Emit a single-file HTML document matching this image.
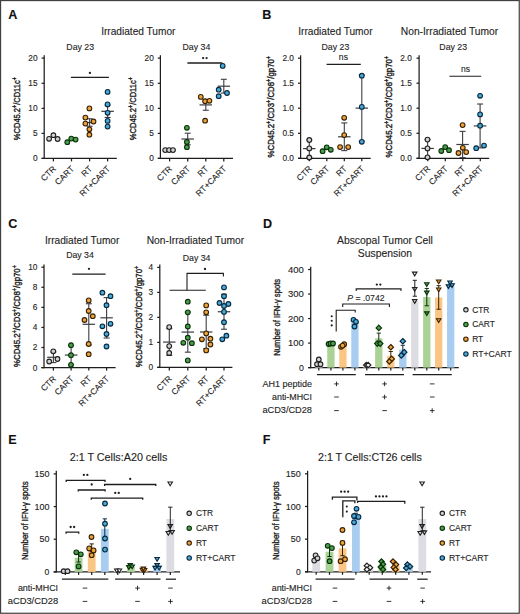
<!DOCTYPE html>
<html><head><meta charset="utf-8"><style>
html,body{margin:0;padding:0;background:#fff;}
svg{display:block;}
svg{font-family:"Liberation Sans",sans-serif;} text{stroke:#1e1e1e;stroke-width:0.12px;}
</style></head><body>
<svg width="520" height="614" viewBox="0 0 520 614" fill="#1e1e1e">
<rect x="0.55" y="0.55" width="518.7" height="612.7" fill="#fff" stroke="#404040" stroke-width="1.2"/>
<text x="8.2" y="19" font-size="12.6" font-weight="bold" fill="#111">A</text>
<text x="262.3" y="19" font-size="12.6" font-weight="bold" fill="#111">B</text>
<text x="8.2" y="228.3" font-size="12.6" font-weight="bold" fill="#111">C</text>
<text x="263.1" y="228.2" font-size="12.6" font-weight="bold" fill="#111">D</text>
<text x="8.3" y="444.3" font-size="12.6" font-weight="bold" fill="#111">E</text>
<text x="262.7" y="444.3" font-size="12.6" font-weight="bold" fill="#111">F</text>
<text x="138.3" y="34.8" font-size="10.15" text-anchor="middle">Irradiated Tumor</text>
<text x="80.2" y="49.5" font-size="8.75" text-anchor="middle">Day 23</text>
<line x1="44.2" y1="55.2" x2="44.2" y2="159.03" stroke="#1e1e1e" stroke-width="1.25"/>
<line x1="41.6" y1="58.1" x2="44.2" y2="58.1" stroke="#1e1e1e" stroke-width="1.25"/>
<text x="37.6" y="61.05" font-size="8.3" text-anchor="end">20</text>
<line x1="41.6" y1="83.3" x2="44.2" y2="83.3" stroke="#1e1e1e" stroke-width="1.25"/>
<text x="37.6" y="86.25" font-size="8.3" text-anchor="end">15</text>
<line x1="41.6" y1="108.4" x2="44.2" y2="108.4" stroke="#1e1e1e" stroke-width="1.25"/>
<text x="37.6" y="111.35" font-size="8.3" text-anchor="end">10</text>
<line x1="41.6" y1="133.4" x2="44.2" y2="133.4" stroke="#1e1e1e" stroke-width="1.25"/>
<text x="37.6" y="136.35" font-size="8.3" text-anchor="end">5</text>
<line x1="41.6" y1="158.4" x2="44.2" y2="158.4" stroke="#1e1e1e" stroke-width="1.25"/>
<text x="37.6" y="161.35" font-size="8.3" text-anchor="end">0</text>
<line x1="41.6" y1="158.4" x2="116.8" y2="158.4" stroke="#1e1e1e" stroke-width="1.25"/>
<line x1="53.4" y1="158.4" x2="53.4" y2="161.4" stroke="#1e1e1e" stroke-width="1.25"/>
<line x1="71.5" y1="158.4" x2="71.5" y2="161.4" stroke="#1e1e1e" stroke-width="1.25"/>
<line x1="89.6" y1="158.4" x2="89.6" y2="161.4" stroke="#1e1e1e" stroke-width="1.25"/>
<line x1="107.6" y1="158.4" x2="107.6" y2="161.4" stroke="#1e1e1e" stroke-width="1.25"/>
<text class="xl" transform="translate(56.5 169.3) rotate(-45)" font-size="8.5" text-anchor="end">CTR</text>
<text class="xl" transform="translate(74.6 169.3) rotate(-45)" font-size="8.5" text-anchor="end">CART</text>
<text class="xl" transform="translate(92.7 169.3) rotate(-45)" font-size="8.5" text-anchor="end">RT</text>
<text class="xl" transform="translate(110.7 169.3) rotate(-45)" font-size="8.5" text-anchor="end">RT+CART</text>
<g transform="translate(19.9 108.7) rotate(-90) scale(0.7852 1)"><text x="0" y="0" font-size="9.6" text-anchor="middle" style="stroke-width:0.4px">%CD45.2<tspan font-size="6.72" baseline-shift="3.17">+</tspan>/CD11c<tspan font-size="6.72" baseline-shift="3.17">+</tspan></text></g>
<text x="196.4" y="49.5" font-size="8.75" text-anchor="middle">Day 34</text>
<line x1="160.4" y1="55.2" x2="160.4" y2="159.03" stroke="#1e1e1e" stroke-width="1.25"/>
<line x1="157.8" y1="58.1" x2="160.4" y2="58.1" stroke="#1e1e1e" stroke-width="1.25"/>
<text x="153.8" y="61.05" font-size="8.3" text-anchor="end">20</text>
<line x1="157.8" y1="83.3" x2="160.4" y2="83.3" stroke="#1e1e1e" stroke-width="1.25"/>
<text x="153.8" y="86.25" font-size="8.3" text-anchor="end">15</text>
<line x1="157.8" y1="108.4" x2="160.4" y2="108.4" stroke="#1e1e1e" stroke-width="1.25"/>
<text x="153.8" y="111.35" font-size="8.3" text-anchor="end">10</text>
<line x1="157.8" y1="133.4" x2="160.4" y2="133.4" stroke="#1e1e1e" stroke-width="1.25"/>
<text x="153.8" y="136.35" font-size="8.3" text-anchor="end">5</text>
<line x1="157.8" y1="158.4" x2="160.4" y2="158.4" stroke="#1e1e1e" stroke-width="1.25"/>
<text x="153.8" y="161.35" font-size="8.3" text-anchor="end">0</text>
<line x1="157.8" y1="158.4" x2="233" y2="158.4" stroke="#1e1e1e" stroke-width="1.25"/>
<line x1="169.6" y1="158.4" x2="169.6" y2="161.4" stroke="#1e1e1e" stroke-width="1.25"/>
<line x1="187.7" y1="158.4" x2="187.7" y2="161.4" stroke="#1e1e1e" stroke-width="1.25"/>
<line x1="205.8" y1="158.4" x2="205.8" y2="161.4" stroke="#1e1e1e" stroke-width="1.25"/>
<line x1="223.8" y1="158.4" x2="223.8" y2="161.4" stroke="#1e1e1e" stroke-width="1.25"/>
<text class="xl" transform="translate(172.7 169.3) rotate(-45)" font-size="8.5" text-anchor="end">CTR</text>
<text class="xl" transform="translate(190.8 169.3) rotate(-45)" font-size="8.5" text-anchor="end">CART</text>
<text class="xl" transform="translate(208.9 169.3) rotate(-45)" font-size="8.5" text-anchor="end">RT</text>
<text class="xl" transform="translate(226.9 169.3) rotate(-45)" font-size="8.5" text-anchor="end">RT+CART</text>
<g transform="translate(136.1 108.7) rotate(-90) scale(0.7852 1)"><text x="0" y="0" font-size="9.6" text-anchor="middle" style="stroke-width:0.4px">%CD45.2<tspan font-size="6.72" baseline-shift="3.17">+</tspan>/CD11c<tspan font-size="6.72" baseline-shift="3.17">+</tspan></text></g>
<line x1="89.6" y1="118.77" x2="89.6" y2="126.26" stroke="#3c3c44" stroke-width="1.1"/>
<line x1="86.6" y1="118.77" x2="92.6" y2="118.77" stroke="#3c3c44" stroke-width="1.1"/>
<line x1="86.6" y1="126.26" x2="92.6" y2="126.26" stroke="#3c3c44" stroke-width="1.1"/>
<line x1="83.35" y1="122.52" x2="95.85" y2="122.52" stroke="#3c3c44" stroke-width="1.21"/>
<line x1="107.6" y1="105.19" x2="107.6" y2="117.45" stroke="#3c3c44" stroke-width="1.1"/>
<line x1="104.6" y1="105.19" x2="110.6" y2="105.19" stroke="#3c3c44" stroke-width="1.1"/>
<line x1="104.6" y1="117.45" x2="110.6" y2="117.45" stroke="#3c3c44" stroke-width="1.1"/>
<line x1="101.35" y1="111.32" x2="113.85" y2="111.32" stroke="#3c3c44" stroke-width="1.21"/>
<circle cx="49.1" cy="138.8" r="2.35" fill="#d2d2d2" stroke="#1f1f1f" stroke-width="1.1"/>
<circle cx="53.4" cy="135.2" r="2.35" fill="#d2d2d2" stroke="#1f1f1f" stroke-width="1.1"/>
<circle cx="57.6" cy="139" r="2.35" fill="#d2d2d2" stroke="#1f1f1f" stroke-width="1.1"/>
<circle cx="67.3" cy="142.2" r="2.35" fill="#4a9f4a" stroke="#0a300b" stroke-width="1.1"/>
<circle cx="71.3" cy="138.6" r="2.35" fill="#4a9f4a" stroke="#0a300b" stroke-width="1.1"/>
<circle cx="75.6" cy="139.6" r="2.35" fill="#4a9f4a" stroke="#0a300b" stroke-width="1.1"/>
<circle cx="89.4" cy="108.4" r="2.35" fill="#eca53a" stroke="#382004" stroke-width="1.1"/>
<circle cx="85.4" cy="117.6" r="2.35" fill="#eca53a" stroke="#382004" stroke-width="1.1"/>
<circle cx="85.4" cy="123.6" r="2.35" fill="#eca53a" stroke="#382004" stroke-width="1.1"/>
<circle cx="93.5" cy="121.5" r="2.35" fill="#eca53a" stroke="#382004" stroke-width="1.1"/>
<circle cx="89.4" cy="129.3" r="2.35" fill="#eca53a" stroke="#382004" stroke-width="1.1"/>
<circle cx="89.4" cy="134.7" r="2.35" fill="#eca53a" stroke="#382004" stroke-width="1.1"/>
<circle cx="107.6" cy="91.9" r="2.35" fill="#48aadb" stroke="#08283c" stroke-width="1.1"/>
<circle cx="107.6" cy="104.4" r="2.35" fill="#48aadb" stroke="#08283c" stroke-width="1.1"/>
<circle cx="107.6" cy="112.8" r="2.35" fill="#48aadb" stroke="#08283c" stroke-width="1.1"/>
<circle cx="107.6" cy="120.9" r="2.35" fill="#48aadb" stroke="#08283c" stroke-width="1.1"/>
<circle cx="107.6" cy="126.6" r="2.35" fill="#48aadb" stroke="#08283c" stroke-width="1.1"/>
<line x1="187.7" y1="133.2" x2="187.7" y2="144.8" stroke="#3c3c44" stroke-width="1.1"/>
<line x1="184.7" y1="133.2" x2="190.7" y2="133.2" stroke="#3c3c44" stroke-width="1.1"/>
<line x1="184.7" y1="144.8" x2="190.7" y2="144.8" stroke="#3c3c44" stroke-width="1.1"/>
<line x1="181.45" y1="139" x2="193.95" y2="139" stroke="#3c3c44" stroke-width="1.21"/>
<line x1="205.8" y1="99.54" x2="205.8" y2="110.26" stroke="#3c3c44" stroke-width="1.1"/>
<line x1="202.8" y1="99.54" x2="208.8" y2="99.54" stroke="#3c3c44" stroke-width="1.1"/>
<line x1="202.8" y1="110.26" x2="208.8" y2="110.26" stroke="#3c3c44" stroke-width="1.1"/>
<line x1="199.55" y1="104.9" x2="212.05" y2="104.9" stroke="#3c3c44" stroke-width="1.21"/>
<line x1="223.8" y1="79.3" x2="223.8" y2="93.1" stroke="#3c3c44" stroke-width="1.1"/>
<line x1="220.8" y1="79.3" x2="226.8" y2="79.3" stroke="#3c3c44" stroke-width="1.1"/>
<line x1="220.8" y1="93.1" x2="226.8" y2="93.1" stroke="#3c3c44" stroke-width="1.1"/>
<line x1="217.55" y1="86.2" x2="230.05" y2="86.2" stroke="#3c3c44" stroke-width="1.21"/>
<circle cx="165.2" cy="150.1" r="2.35" fill="#d2d2d2" stroke="#1f1f1f" stroke-width="1.1"/>
<circle cx="169.1" cy="150.1" r="2.35" fill="#d2d2d2" stroke="#1f1f1f" stroke-width="1.1"/>
<circle cx="173" cy="150.1" r="2.35" fill="#d2d2d2" stroke="#1f1f1f" stroke-width="1.1"/>
<circle cx="186.9" cy="127.8" r="2.35" fill="#4a9f4a" stroke="#0a300b" stroke-width="1.1"/>
<circle cx="186.9" cy="142" r="2.35" fill="#4a9f4a" stroke="#0a300b" stroke-width="1.1"/>
<circle cx="186.9" cy="147.2" r="2.35" fill="#4a9f4a" stroke="#0a300b" stroke-width="1.1"/>
<circle cx="200.8" cy="96.9" r="2.35" fill="#eca53a" stroke="#382004" stroke-width="1.1"/>
<circle cx="205.1" cy="101.2" r="2.35" fill="#eca53a" stroke="#382004" stroke-width="1.1"/>
<circle cx="209.4" cy="100.8" r="2.35" fill="#eca53a" stroke="#382004" stroke-width="1.1"/>
<circle cx="205.1" cy="120.7" r="2.35" fill="#eca53a" stroke="#382004" stroke-width="1.1"/>
<circle cx="222.7" cy="65.9" r="2.35" fill="#48aadb" stroke="#08283c" stroke-width="1.1"/>
<circle cx="218.7" cy="89.7" r="2.35" fill="#48aadb" stroke="#08283c" stroke-width="1.1"/>
<circle cx="227" cy="93" r="2.35" fill="#48aadb" stroke="#08283c" stroke-width="1.1"/>
<circle cx="218.7" cy="96.2" r="2.35" fill="#48aadb" stroke="#08283c" stroke-width="1.1"/>
<polyline points="70.9,77.4 108.9,77.4" fill="none" stroke="#1e1e1e" stroke-width="1.3"/>
<circle cx="89.9" cy="72.9" r="1.15" fill="#1e1e1e"/>
<polyline points="187.4,63 222.3,63" fill="none" stroke="#1e1e1e" stroke-width="1.3"/>
<circle cx="203.1" cy="58.1" r="1.15" fill="#1e1e1e"/>
<circle cx="206.6" cy="58.1" r="1.15" fill="#1e1e1e"/>
<text x="335.4" y="35.1" font-size="10.15" text-anchor="middle">Irradiated Tumor</text>
<text x="449.5" y="35" font-size="10.25" text-anchor="middle">Non-Irradiated Tumor</text>
<text x="335.4" y="49.7" font-size="8.75" text-anchor="middle">Day 23</text>
<line x1="300.6" y1="55.3" x2="300.6" y2="158.93" stroke="#1e1e1e" stroke-width="1.25"/>
<line x1="298" y1="58.2" x2="300.6" y2="58.2" stroke="#1e1e1e" stroke-width="1.25"/>
<text x="294" y="61.15" font-size="8.3" text-anchor="end">2.0</text>
<line x1="298" y1="83.2" x2="300.6" y2="83.2" stroke="#1e1e1e" stroke-width="1.25"/>
<text x="294" y="86.15" font-size="8.3" text-anchor="end">1.5</text>
<line x1="298" y1="108.2" x2="300.6" y2="108.2" stroke="#1e1e1e" stroke-width="1.25"/>
<text x="294" y="111.15" font-size="8.3" text-anchor="end">1.0</text>
<line x1="298" y1="133.3" x2="300.6" y2="133.3" stroke="#1e1e1e" stroke-width="1.25"/>
<text x="294" y="136.25" font-size="8.3" text-anchor="end">0.5</text>
<line x1="298" y1="158.3" x2="300.6" y2="158.3" stroke="#1e1e1e" stroke-width="1.25"/>
<text x="294" y="161.25" font-size="8.3" text-anchor="end">0.0</text>
<line x1="298" y1="158.3" x2="370.7" y2="158.3" stroke="#1e1e1e" stroke-width="1.25"/>
<line x1="309.3" y1="158.3" x2="309.3" y2="161.3" stroke="#1e1e1e" stroke-width="1.25"/>
<line x1="326.8" y1="158.3" x2="326.8" y2="161.3" stroke="#1e1e1e" stroke-width="1.25"/>
<line x1="344.3" y1="158.3" x2="344.3" y2="161.3" stroke="#1e1e1e" stroke-width="1.25"/>
<line x1="361.8" y1="158.3" x2="361.8" y2="161.3" stroke="#1e1e1e" stroke-width="1.25"/>
<text class="xl" transform="translate(312.4 169.2) rotate(-45)" font-size="8.5" text-anchor="end">CTR</text>
<text class="xl" transform="translate(329.9 169.2) rotate(-45)" font-size="8.5" text-anchor="end">CART</text>
<text class="xl" transform="translate(347.4 169.2) rotate(-45)" font-size="8.5" text-anchor="end">RT</text>
<text class="xl" transform="translate(364.9 169.2) rotate(-45)" font-size="8.5" text-anchor="end">RT+CART</text>
<g transform="translate(274.1 106.7) rotate(-90) scale(0.8693 1)"><text x="0" y="0" font-size="9" text-anchor="middle" style="stroke-width:0.4px">%CD45.2<tspan font-size="6.3" baseline-shift="2.97">+</tspan>/CD3<tspan font-size="6.3" baseline-shift="2.97">+</tspan>/CD8<tspan font-size="6.3" baseline-shift="2.97">+</tspan>/gp70<tspan font-size="6.3" baseline-shift="2.97">+</tspan></text></g>
<text x="453.2" y="49.7" font-size="8.75" text-anchor="middle">Day 23</text>
<line x1="419.1" y1="55.3" x2="419.1" y2="158.93" stroke="#1e1e1e" stroke-width="1.25"/>
<line x1="416.5" y1="58.2" x2="419.1" y2="58.2" stroke="#1e1e1e" stroke-width="1.25"/>
<text x="411.8" y="61.15" font-size="8.3" text-anchor="end">2.0</text>
<line x1="416.5" y1="83.2" x2="419.1" y2="83.2" stroke="#1e1e1e" stroke-width="1.25"/>
<text x="411.8" y="86.15" font-size="8.3" text-anchor="end">1.5</text>
<line x1="416.5" y1="108.2" x2="419.1" y2="108.2" stroke="#1e1e1e" stroke-width="1.25"/>
<text x="411.8" y="111.15" font-size="8.3" text-anchor="end">1.0</text>
<line x1="416.5" y1="133.3" x2="419.1" y2="133.3" stroke="#1e1e1e" stroke-width="1.25"/>
<text x="411.8" y="136.25" font-size="8.3" text-anchor="end">0.5</text>
<line x1="416.5" y1="158.3" x2="419.1" y2="158.3" stroke="#1e1e1e" stroke-width="1.25"/>
<text x="411.8" y="161.25" font-size="8.3" text-anchor="end">0.0</text>
<line x1="416.5" y1="158.3" x2="489.2" y2="158.3" stroke="#1e1e1e" stroke-width="1.25"/>
<line x1="427.8" y1="158.3" x2="427.8" y2="161.3" stroke="#1e1e1e" stroke-width="1.25"/>
<line x1="445.3" y1="158.3" x2="445.3" y2="161.3" stroke="#1e1e1e" stroke-width="1.25"/>
<line x1="462.8" y1="158.3" x2="462.8" y2="161.3" stroke="#1e1e1e" stroke-width="1.25"/>
<line x1="480.3" y1="158.3" x2="480.3" y2="161.3" stroke="#1e1e1e" stroke-width="1.25"/>
<text class="xl" transform="translate(430.9 169.2) rotate(-45)" font-size="8.5" text-anchor="end">CTR</text>
<text class="xl" transform="translate(448.4 169.2) rotate(-45)" font-size="8.5" text-anchor="end">CART</text>
<text class="xl" transform="translate(465.9 169.2) rotate(-45)" font-size="8.5" text-anchor="end">RT</text>
<text class="xl" transform="translate(483.4 169.2) rotate(-45)" font-size="8.5" text-anchor="end">RT+CART</text>
<g transform="translate(391.9 106.7) rotate(-90) scale(0.8693 1)"><text x="0" y="0" font-size="9" text-anchor="middle" style="stroke-width:0.4px">%CD45.2<tspan font-size="6.3" baseline-shift="2.97">+</tspan>/CD3<tspan font-size="6.3" baseline-shift="2.97">+</tspan>/CD8<tspan font-size="6.3" baseline-shift="2.97">+</tspan>/gp70<tspan font-size="6.3" baseline-shift="2.97">+</tspan></text></g>
<line x1="309.3" y1="139.88" x2="309.3" y2="157.39" stroke="#3c3c44" stroke-width="1.1"/>
<line x1="306.3" y1="139.88" x2="312.3" y2="139.88" stroke="#3c3c44" stroke-width="1.1"/>
<line x1="306.3" y1="157.39" x2="312.3" y2="157.39" stroke="#3c3c44" stroke-width="1.1"/>
<line x1="303.05" y1="148.63" x2="315.55" y2="148.63" stroke="#3c3c44" stroke-width="1.21"/>
<line x1="344.3" y1="122.92" x2="344.3" y2="150.63" stroke="#3c3c44" stroke-width="1.1"/>
<line x1="341.3" y1="122.92" x2="347.3" y2="122.92" stroke="#3c3c44" stroke-width="1.1"/>
<line x1="341.3" y1="150.63" x2="347.3" y2="150.63" stroke="#3c3c44" stroke-width="1.1"/>
<line x1="338.05" y1="136.78" x2="350.55" y2="136.78" stroke="#3c3c44" stroke-width="1.21"/>
<line x1="361.8" y1="75.07" x2="361.8" y2="141.2" stroke="#3c3c44" stroke-width="1.1"/>
<line x1="358.8" y1="75.07" x2="364.8" y2="75.07" stroke="#3c3c44" stroke-width="1.1"/>
<line x1="358.8" y1="141.2" x2="364.8" y2="141.2" stroke="#3c3c44" stroke-width="1.1"/>
<line x1="355.55" y1="108.13" x2="368.05" y2="108.13" stroke="#3c3c44" stroke-width="1.21"/>
<circle cx="309.3" cy="140" r="2.35" fill="#d2d2d2" stroke="#1f1f1f" stroke-width="1.1"/>
<circle cx="309.3" cy="148.4" r="2.35" fill="#d2d2d2" stroke="#1f1f1f" stroke-width="1.1"/>
<circle cx="309.3" cy="157.5" r="2.35" fill="#d2d2d2" stroke="#1f1f1f" stroke-width="1.1"/>
<circle cx="322.6" cy="151.2" r="2.35" fill="#4a9f4a" stroke="#0a300b" stroke-width="1.1"/>
<circle cx="326.7" cy="147.3" r="2.35" fill="#4a9f4a" stroke="#0a300b" stroke-width="1.1"/>
<circle cx="330.8" cy="149.8" r="2.35" fill="#4a9f4a" stroke="#0a300b" stroke-width="1.1"/>
<circle cx="344.2" cy="117.8" r="2.35" fill="#eca53a" stroke="#382004" stroke-width="1.1"/>
<circle cx="344.2" cy="135.1" r="2.35" fill="#eca53a" stroke="#382004" stroke-width="1.1"/>
<circle cx="340.1" cy="147.1" r="2.35" fill="#eca53a" stroke="#382004" stroke-width="1.1"/>
<circle cx="348.2" cy="147.1" r="2.35" fill="#eca53a" stroke="#382004" stroke-width="1.1"/>
<circle cx="361.8" cy="75.7" r="2.35" fill="#48aadb" stroke="#08283c" stroke-width="1.1"/>
<circle cx="361.8" cy="106.9" r="2.35" fill="#48aadb" stroke="#08283c" stroke-width="1.1"/>
<circle cx="361.8" cy="141.8" r="2.35" fill="#48aadb" stroke="#08283c" stroke-width="1.1"/>
<line x1="427.6" y1="139.58" x2="427.6" y2="157.28" stroke="#3c3c44" stroke-width="1.1"/>
<line x1="424.6" y1="139.58" x2="430.6" y2="139.58" stroke="#3c3c44" stroke-width="1.1"/>
<line x1="424.6" y1="157.28" x2="430.6" y2="157.28" stroke="#3c3c44" stroke-width="1.1"/>
<line x1="421.35" y1="148.43" x2="433.85" y2="148.43" stroke="#3c3c44" stroke-width="1.21"/>
<line x1="462.6" y1="131.37" x2="462.6" y2="157.63" stroke="#3c3c44" stroke-width="1.1"/>
<line x1="459.6" y1="131.37" x2="465.6" y2="131.37" stroke="#3c3c44" stroke-width="1.1"/>
<line x1="459.6" y1="157.63" x2="465.6" y2="157.63" stroke="#3c3c44" stroke-width="1.1"/>
<line x1="456.35" y1="144.5" x2="468.85" y2="144.5" stroke="#3c3c44" stroke-width="1.21"/>
<line x1="480.1" y1="104.01" x2="480.1" y2="147.87" stroke="#3c3c44" stroke-width="1.1"/>
<line x1="477.1" y1="104.01" x2="483.1" y2="104.01" stroke="#3c3c44" stroke-width="1.1"/>
<line x1="477.1" y1="147.87" x2="483.1" y2="147.87" stroke="#3c3c44" stroke-width="1.1"/>
<line x1="473.85" y1="125.94" x2="486.35" y2="125.94" stroke="#3c3c44" stroke-width="1.21"/>
<circle cx="427.5" cy="139.6" r="2.35" fill="#d2d2d2" stroke="#1f1f1f" stroke-width="1.1"/>
<circle cx="427.5" cy="148.4" r="2.35" fill="#d2d2d2" stroke="#1f1f1f" stroke-width="1.1"/>
<circle cx="427.5" cy="157.3" r="2.35" fill="#d2d2d2" stroke="#1f1f1f" stroke-width="1.1"/>
<circle cx="441.3" cy="151" r="2.35" fill="#4a9f4a" stroke="#0a300b" stroke-width="1.1"/>
<circle cx="445.2" cy="147.1" r="2.35" fill="#4a9f4a" stroke="#0a300b" stroke-width="1.1"/>
<circle cx="449" cy="150.2" r="2.35" fill="#4a9f4a" stroke="#0a300b" stroke-width="1.1"/>
<circle cx="462.6" cy="125.1" r="2.35" fill="#eca53a" stroke="#382004" stroke-width="1.1"/>
<circle cx="462.8" cy="147.8" r="2.35" fill="#eca53a" stroke="#382004" stroke-width="1.1"/>
<circle cx="458.5" cy="153" r="2.35" fill="#eca53a" stroke="#382004" stroke-width="1.1"/>
<circle cx="466.2" cy="152.1" r="2.35" fill="#eca53a" stroke="#382004" stroke-width="1.1"/>
<circle cx="480.1" cy="95.8" r="2.35" fill="#48aadb" stroke="#08283c" stroke-width="1.1"/>
<circle cx="480.1" cy="114.4" r="2.35" fill="#48aadb" stroke="#08283c" stroke-width="1.1"/>
<circle cx="480.1" cy="125.7" r="2.35" fill="#48aadb" stroke="#08283c" stroke-width="1.1"/>
<circle cx="476.2" cy="148.2" r="2.35" fill="#48aadb" stroke="#08283c" stroke-width="1.1"/>
<circle cx="484" cy="145.6" r="2.35" fill="#48aadb" stroke="#08283c" stroke-width="1.1"/>
<line x1="326.6" y1="64.4" x2="360.8" y2="64.4" stroke="#1e1e1e" stroke-width="1.1"/>
<text x="343.4" y="59.8" font-size="8.6" text-anchor="middle">ns</text>
<line x1="449.4" y1="76.2" x2="481.2" y2="76.2" stroke="#1e1e1e" stroke-width="1.1"/>
<text x="465.5" y="71.8" font-size="8.6" text-anchor="middle">ns</text>
<text x="82.2" y="244.3" font-size="10.15" text-anchor="middle">Irradiated Tumor</text>
<text x="80" y="258.4" font-size="8.75" text-anchor="middle">Day 34</text>
<text x="195.4" y="243.9" font-size="10.25" text-anchor="middle">Non-Irradiated Tumor</text>
<text x="196.6" y="260.9" font-size="8.75" text-anchor="middle">Day 34</text>
<line x1="44" y1="264.6" x2="44" y2="368.23" stroke="#1e1e1e" stroke-width="1.25"/>
<line x1="41.4" y1="267.2" x2="44" y2="267.2" stroke="#1e1e1e" stroke-width="1.25"/>
<text x="37.4" y="270.15" font-size="8.3" text-anchor="end">10</text>
<line x1="41.4" y1="287.28" x2="44" y2="287.28" stroke="#1e1e1e" stroke-width="1.25"/>
<text x="37.4" y="290.23" font-size="8.3" text-anchor="end">8</text>
<line x1="41.4" y1="307.36" x2="44" y2="307.36" stroke="#1e1e1e" stroke-width="1.25"/>
<text x="37.4" y="310.31" font-size="8.3" text-anchor="end">6</text>
<line x1="41.4" y1="327.44" x2="44" y2="327.44" stroke="#1e1e1e" stroke-width="1.25"/>
<text x="37.4" y="330.39" font-size="8.3" text-anchor="end">4</text>
<line x1="41.4" y1="347.52" x2="44" y2="347.52" stroke="#1e1e1e" stroke-width="1.25"/>
<text x="37.4" y="350.47" font-size="8.3" text-anchor="end">2</text>
<line x1="41.4" y1="367.6" x2="44" y2="367.6" stroke="#1e1e1e" stroke-width="1.25"/>
<text x="37.4" y="370.55" font-size="8.3" text-anchor="end">0</text>
<line x1="41.4" y1="367.6" x2="115.6" y2="367.6" stroke="#1e1e1e" stroke-width="1.25"/>
<line x1="53.4" y1="367.6" x2="53.4" y2="370.6" stroke="#1e1e1e" stroke-width="1.25"/>
<line x1="71.1" y1="367.6" x2="71.1" y2="370.6" stroke="#1e1e1e" stroke-width="1.25"/>
<line x1="88.8" y1="367.6" x2="88.8" y2="370.6" stroke="#1e1e1e" stroke-width="1.25"/>
<line x1="106.6" y1="367.6" x2="106.6" y2="370.6" stroke="#1e1e1e" stroke-width="1.25"/>
<text class="xl" transform="translate(56.5 379.4) rotate(-45)" font-size="8.5" text-anchor="end">CTR</text>
<text class="xl" transform="translate(74.2 379.4) rotate(-45)" font-size="8.5" text-anchor="end">CART</text>
<text class="xl" transform="translate(91.9 379.4) rotate(-45)" font-size="8.5" text-anchor="end">RT</text>
<text class="xl" transform="translate(109.7 379.4) rotate(-45)" font-size="8.5" text-anchor="end">RT+CART</text>
<g transform="translate(19.8 316) rotate(-90) scale(0.8736 1)"><text x="0" y="0" font-size="9" text-anchor="middle" style="stroke-width:0.4px">%CD45.2<tspan font-size="6.3" baseline-shift="2.97">+</tspan>/CD3<tspan font-size="6.3" baseline-shift="2.97">+</tspan>/CD8<tspan font-size="6.3" baseline-shift="2.97">+</tspan>/gp70<tspan font-size="6.3" baseline-shift="2.97">+</tspan></text></g>
<line x1="53.4" y1="351.95" x2="53.4" y2="362.58" stroke="#3c3c44" stroke-width="1.1"/>
<line x1="50.4" y1="351.95" x2="56.4" y2="351.95" stroke="#3c3c44" stroke-width="1.1"/>
<line x1="50.4" y1="362.58" x2="56.4" y2="362.58" stroke="#3c3c44" stroke-width="1.1"/>
<line x1="47.15" y1="357.27" x2="59.65" y2="357.27" stroke="#3c3c44" stroke-width="1.21"/>
<line x1="71.1" y1="345.27" x2="71.1" y2="364.87" stroke="#3c3c44" stroke-width="1.1"/>
<line x1="68.1" y1="345.27" x2="74.1" y2="345.27" stroke="#3c3c44" stroke-width="1.1"/>
<line x1="68.1" y1="364.87" x2="74.1" y2="364.87" stroke="#3c3c44" stroke-width="1.1"/>
<line x1="64.85" y1="355.07" x2="77.35" y2="355.07" stroke="#3c3c44" stroke-width="1.21"/>
<line x1="88.8" y1="303.74" x2="88.8" y2="344.86" stroke="#3c3c44" stroke-width="1.1"/>
<line x1="85.8" y1="303.74" x2="91.8" y2="303.74" stroke="#3c3c44" stroke-width="1.1"/>
<line x1="85.8" y1="344.86" x2="91.8" y2="344.86" stroke="#3c3c44" stroke-width="1.1"/>
<line x1="82.55" y1="324.3" x2="95.05" y2="324.3" stroke="#3c3c44" stroke-width="1.21"/>
<line x1="106.6" y1="297.61" x2="106.6" y2="338.02" stroke="#3c3c44" stroke-width="1.1"/>
<line x1="103.6" y1="297.61" x2="109.6" y2="297.61" stroke="#3c3c44" stroke-width="1.1"/>
<line x1="103.6" y1="338.02" x2="109.6" y2="338.02" stroke="#3c3c44" stroke-width="1.1"/>
<line x1="100.35" y1="317.81" x2="112.85" y2="317.81" stroke="#3c3c44" stroke-width="1.21"/>
<circle cx="53.3" cy="351.3" r="2.35" fill="#d2d2d2" stroke="#1f1f1f" stroke-width="1.1"/>
<circle cx="49.2" cy="361.5" r="2.35" fill="#d2d2d2" stroke="#1f1f1f" stroke-width="1.1"/>
<circle cx="57.5" cy="359" r="2.35" fill="#d2d2d2" stroke="#1f1f1f" stroke-width="1.1"/>
<circle cx="71" cy="345.2" r="2.35" fill="#4a9f4a" stroke="#0a300b" stroke-width="1.1"/>
<circle cx="71" cy="355.2" r="2.35" fill="#4a9f4a" stroke="#0a300b" stroke-width="1.1"/>
<circle cx="71" cy="364.8" r="2.35" fill="#4a9f4a" stroke="#0a300b" stroke-width="1.1"/>
<circle cx="88.7" cy="300.4" r="2.35" fill="#eca53a" stroke="#382004" stroke-width="1.1"/>
<circle cx="88.7" cy="311" r="2.35" fill="#eca53a" stroke="#382004" stroke-width="1.1"/>
<circle cx="92.8" cy="316.2" r="2.35" fill="#eca53a" stroke="#382004" stroke-width="1.1"/>
<circle cx="84.5" cy="320" r="2.35" fill="#eca53a" stroke="#382004" stroke-width="1.1"/>
<circle cx="88.7" cy="344" r="2.35" fill="#eca53a" stroke="#382004" stroke-width="1.1"/>
<circle cx="88.7" cy="354.2" r="2.35" fill="#eca53a" stroke="#382004" stroke-width="1.1"/>
<circle cx="102.4" cy="292.7" r="2.35" fill="#48aadb" stroke="#08283c" stroke-width="1.1"/>
<circle cx="110.5" cy="296.2" r="2.35" fill="#48aadb" stroke="#08283c" stroke-width="1.1"/>
<circle cx="106.5" cy="305.2" r="2.35" fill="#48aadb" stroke="#08283c" stroke-width="1.1"/>
<circle cx="102.4" cy="326.3" r="2.35" fill="#48aadb" stroke="#08283c" stroke-width="1.1"/>
<circle cx="110.5" cy="323.8" r="2.35" fill="#48aadb" stroke="#08283c" stroke-width="1.1"/>
<circle cx="106.5" cy="334" r="2.35" fill="#48aadb" stroke="#08283c" stroke-width="1.1"/>
<circle cx="106.5" cy="346.5" r="2.35" fill="#48aadb" stroke="#08283c" stroke-width="1.1"/>
<polyline points="72.3,274.1 105.6,274.1" fill="none" stroke="#1e1e1e" stroke-width="1.3"/>
<circle cx="88.95" cy="268.8" r="1.15" fill="#1e1e1e"/>
<line x1="159.8" y1="264.6" x2="159.8" y2="368.02" stroke="#1e1e1e" stroke-width="1.25"/>
<line x1="157.2" y1="267.4" x2="159.8" y2="267.4" stroke="#1e1e1e" stroke-width="1.25"/>
<text x="153.2" y="270.35" font-size="8.3" text-anchor="end">4</text>
<line x1="157.2" y1="292.4" x2="159.8" y2="292.4" stroke="#1e1e1e" stroke-width="1.25"/>
<text x="153.2" y="295.35" font-size="8.3" text-anchor="end">3</text>
<line x1="157.2" y1="317.4" x2="159.8" y2="317.4" stroke="#1e1e1e" stroke-width="1.25"/>
<text x="153.2" y="320.35" font-size="8.3" text-anchor="end">2</text>
<line x1="157.2" y1="342.4" x2="159.8" y2="342.4" stroke="#1e1e1e" stroke-width="1.25"/>
<text x="153.2" y="345.35" font-size="8.3" text-anchor="end">1</text>
<line x1="157.2" y1="367.4" x2="159.8" y2="367.4" stroke="#1e1e1e" stroke-width="1.25"/>
<text x="153.2" y="370.35" font-size="8.3" text-anchor="end">0</text>
<line x1="157.2" y1="367.4" x2="232.4" y2="367.4" stroke="#1e1e1e" stroke-width="1.25"/>
<line x1="169.3" y1="367.4" x2="169.3" y2="370.4" stroke="#1e1e1e" stroke-width="1.25"/>
<line x1="187.8" y1="367.4" x2="187.8" y2="370.4" stroke="#1e1e1e" stroke-width="1.25"/>
<line x1="206.2" y1="367.4" x2="206.2" y2="370.4" stroke="#1e1e1e" stroke-width="1.25"/>
<line x1="224" y1="367.4" x2="224" y2="370.4" stroke="#1e1e1e" stroke-width="1.25"/>
<text class="xl" transform="translate(172.4 379.2) rotate(-45)" font-size="8.5" text-anchor="end">CTR</text>
<text class="xl" transform="translate(190.9 379.2) rotate(-45)" font-size="8.5" text-anchor="end">CART</text>
<text class="xl" transform="translate(209.3 379.2) rotate(-45)" font-size="8.5" text-anchor="end">RT</text>
<text class="xl" transform="translate(227.1 379.2) rotate(-45)" font-size="8.5" text-anchor="end">RT+CART</text>
<g transform="translate(142.1 316.5) rotate(-90) scale(0.8512 1)"><text x="0" y="0" font-size="9.2" text-anchor="middle" style="stroke-width:0.4px">%CD45.2<tspan font-size="6.44" baseline-shift="3.04">+</tspan>/CD3<tspan font-size="6.44" baseline-shift="3.04">+</tspan>/CD8<tspan font-size="6.44" baseline-shift="3.04">+</tspan>/gp70<tspan font-size="6.44" baseline-shift="3.04">+</tspan></text></g>
<line x1="169.3" y1="328.65" x2="169.3" y2="355.48" stroke="#3c3c44" stroke-width="1.1"/>
<line x1="166.3" y1="328.65" x2="172.3" y2="328.65" stroke="#3c3c44" stroke-width="1.1"/>
<line x1="166.3" y1="355.48" x2="172.3" y2="355.48" stroke="#3c3c44" stroke-width="1.1"/>
<line x1="163.05" y1="342.07" x2="175.55" y2="342.07" stroke="#3c3c44" stroke-width="1.21"/>
<line x1="187.8" y1="312.01" x2="187.8" y2="352.16" stroke="#3c3c44" stroke-width="1.1"/>
<line x1="184.8" y1="312.01" x2="190.8" y2="312.01" stroke="#3c3c44" stroke-width="1.1"/>
<line x1="184.8" y1="352.16" x2="190.8" y2="352.16" stroke="#3c3c44" stroke-width="1.1"/>
<line x1="181.55" y1="332.09" x2="194.05" y2="332.09" stroke="#3c3c44" stroke-width="1.21"/>
<line x1="206.2" y1="315.21" x2="206.2" y2="348.79" stroke="#3c3c44" stroke-width="1.1"/>
<line x1="203.2" y1="315.21" x2="209.2" y2="315.21" stroke="#3c3c44" stroke-width="1.1"/>
<line x1="203.2" y1="348.79" x2="209.2" y2="348.79" stroke="#3c3c44" stroke-width="1.1"/>
<line x1="199.95" y1="332" x2="212.45" y2="332" stroke="#3c3c44" stroke-width="1.21"/>
<line x1="224" y1="294.26" x2="224" y2="329.23" stroke="#3c3c44" stroke-width="1.1"/>
<line x1="221" y1="294.26" x2="227" y2="294.26" stroke="#3c3c44" stroke-width="1.1"/>
<line x1="221" y1="329.23" x2="227" y2="329.23" stroke="#3c3c44" stroke-width="1.1"/>
<line x1="217.75" y1="311.74" x2="230.25" y2="311.74" stroke="#3c3c44" stroke-width="1.21"/>
<circle cx="169.2" cy="327.1" r="2.35" fill="#d2d2d2" stroke="#1f1f1f" stroke-width="1.1"/>
<circle cx="169.2" cy="346.1" r="2.35" fill="#d2d2d2" stroke="#1f1f1f" stroke-width="1.1"/>
<circle cx="169.2" cy="353" r="2.35" fill="#d2d2d2" stroke="#1f1f1f" stroke-width="1.1"/>
<circle cx="187.8" cy="301.7" r="2.35" fill="#4a9f4a" stroke="#0a300b" stroke-width="1.1"/>
<circle cx="187.8" cy="312.3" r="2.35" fill="#4a9f4a" stroke="#0a300b" stroke-width="1.1"/>
<circle cx="187.8" cy="326.5" r="2.35" fill="#4a9f4a" stroke="#0a300b" stroke-width="1.1"/>
<circle cx="187.8" cy="337.7" r="2.35" fill="#4a9f4a" stroke="#0a300b" stroke-width="1.1"/>
<circle cx="183.3" cy="342.8" r="2.35" fill="#4a9f4a" stroke="#0a300b" stroke-width="1.1"/>
<circle cx="191.9" cy="343.2" r="2.35" fill="#4a9f4a" stroke="#0a300b" stroke-width="1.1"/>
<circle cx="187.8" cy="360.4" r="2.35" fill="#4a9f4a" stroke="#0a300b" stroke-width="1.1"/>
<circle cx="206.2" cy="305.4" r="2.35" fill="#eca53a" stroke="#382004" stroke-width="1.1"/>
<circle cx="206.2" cy="312.3" r="2.35" fill="#eca53a" stroke="#382004" stroke-width="1.1"/>
<circle cx="206.2" cy="333.4" r="2.35" fill="#eca53a" stroke="#382004" stroke-width="1.1"/>
<circle cx="201.9" cy="339.3" r="2.35" fill="#eca53a" stroke="#382004" stroke-width="1.1"/>
<circle cx="210.4" cy="338.7" r="2.35" fill="#eca53a" stroke="#382004" stroke-width="1.1"/>
<circle cx="210.4" cy="344.5" r="2.35" fill="#eca53a" stroke="#382004" stroke-width="1.1"/>
<circle cx="206.2" cy="350.4" r="2.35" fill="#eca53a" stroke="#382004" stroke-width="1.1"/>
<circle cx="224" cy="287.4" r="2.35" fill="#48aadb" stroke="#08283c" stroke-width="1.1"/>
<circle cx="224" cy="296.2" r="2.35" fill="#48aadb" stroke="#08283c" stroke-width="1.1"/>
<circle cx="219.5" cy="303" r="2.35" fill="#48aadb" stroke="#08283c" stroke-width="1.1"/>
<circle cx="228.4" cy="304" r="2.35" fill="#48aadb" stroke="#08283c" stroke-width="1.1"/>
<circle cx="224" cy="306" r="2.35" fill="#48aadb" stroke="#08283c" stroke-width="1.1"/>
<circle cx="224" cy="311.9" r="2.35" fill="#48aadb" stroke="#08283c" stroke-width="1.1"/>
<circle cx="224" cy="322.2" r="2.35" fill="#48aadb" stroke="#08283c" stroke-width="1.1"/>
<circle cx="222.3" cy="339.3" r="2.35" fill="#48aadb" stroke="#08283c" stroke-width="1.1"/>
<circle cx="226.4" cy="335.7" r="2.35" fill="#48aadb" stroke="#08283c" stroke-width="1.1"/>
<line x1="169.6" y1="290.3" x2="205.8" y2="290.3" stroke="#1e1e1e" stroke-width="1.1"/>
<polyline points="187,290.3 187,273.4 223.4,273.4 223.4,276.4" fill="none" stroke="#1e1e1e" stroke-width="1.1"/>
<circle cx="205" cy="269" r="1.15" fill="#1e1e1e"/>
<text x="384.9" y="243.9" font-size="10.4" text-anchor="middle">Abscopal Tumor Cell</text>
<text x="384.9" y="256.9" font-size="10.4" text-anchor="middle">Suspension</text>
<line x1="310.7" y1="266.8" x2="310.7" y2="368.23" stroke="#1e1e1e" stroke-width="1.25"/>
<line x1="308.1" y1="269.52" x2="310.7" y2="269.52" stroke="#1e1e1e" stroke-width="1.25"/>
<text x="303.8" y="272.61" font-size="8.7" text-anchor="end" textLength="15.8" lengthAdjust="spacingAndGlyphs">400</text>
<line x1="308.1" y1="294.04" x2="310.7" y2="294.04" stroke="#1e1e1e" stroke-width="1.25"/>
<text x="303.8" y="297.13" font-size="8.7" text-anchor="end" textLength="15.8" lengthAdjust="spacingAndGlyphs">300</text>
<line x1="308.1" y1="318.56" x2="310.7" y2="318.56" stroke="#1e1e1e" stroke-width="1.25"/>
<text x="303.8" y="321.65" font-size="8.7" text-anchor="end" textLength="15.8" lengthAdjust="spacingAndGlyphs">200</text>
<line x1="308.1" y1="343.08" x2="310.7" y2="343.08" stroke="#1e1e1e" stroke-width="1.25"/>
<text x="303.8" y="346.17" font-size="8.7" text-anchor="end" textLength="15.8" lengthAdjust="spacingAndGlyphs">100</text>
<line x1="308.1" y1="367.6" x2="310.7" y2="367.6" stroke="#1e1e1e" stroke-width="1.25"/>
<text x="303.8" y="370.69" font-size="8.7" text-anchor="end">0</text>
<g transform="translate(280.0 317.3) rotate(-90) scale(0.85 1)"><text x="0" y="0" font-size="9" text-anchor="middle" style="stroke-width:0.35px">Number of IFN-&#947; spots</text></g>
<line x1="308.1" y1="367.6" x2="458.8" y2="367.6" stroke="#1e1e1e" stroke-width="1.25"/>
<line x1="318.8" y1="367.6" x2="318.8" y2="370.6" stroke="#1e1e1e" stroke-width="1.25"/>
<line x1="330.9" y1="367.6" x2="330.9" y2="370.6" stroke="#1e1e1e" stroke-width="1.25"/>
<line x1="342.9" y1="367.6" x2="342.9" y2="370.6" stroke="#1e1e1e" stroke-width="1.25"/>
<line x1="354.9" y1="367.6" x2="354.9" y2="370.6" stroke="#1e1e1e" stroke-width="1.25"/>
<line x1="366.8" y1="367.6" x2="366.8" y2="370.6" stroke="#1e1e1e" stroke-width="1.25"/>
<line x1="378.8" y1="367.6" x2="378.8" y2="370.6" stroke="#1e1e1e" stroke-width="1.25"/>
<line x1="390.8" y1="367.6" x2="390.8" y2="370.6" stroke="#1e1e1e" stroke-width="1.25"/>
<line x1="402.8" y1="367.6" x2="402.8" y2="370.6" stroke="#1e1e1e" stroke-width="1.25"/>
<line x1="414.8" y1="367.6" x2="414.8" y2="370.6" stroke="#1e1e1e" stroke-width="1.25"/>
<line x1="426.8" y1="367.6" x2="426.8" y2="370.6" stroke="#1e1e1e" stroke-width="1.25"/>
<line x1="438.7" y1="367.6" x2="438.7" y2="370.6" stroke="#1e1e1e" stroke-width="1.25"/>
<line x1="450.7" y1="367.6" x2="450.7" y2="370.6" stroke="#1e1e1e" stroke-width="1.25"/>
<rect x="315.15" y="362.63" width="7.3" height="4.97" fill="#dcdce2"/>
<rect x="327.25" y="343.67" width="7.3" height="23.93" fill="#a9d294"/>
<rect x="339.25" y="345.53" width="7.3" height="22.07" fill="#fbc683"/>
<rect x="351.25" y="322.7" width="7.3" height="44.9" fill="#a8cdf1"/>
<circle cx="318.8" cy="359.5" r="2.35" fill="#d2d2d2" stroke="#1f1f1f" stroke-width="1.1"/>
<circle cx="317" cy="364.2" r="2.35" fill="#d2d2d2" stroke="#1f1f1f" stroke-width="1.1"/>
<circle cx="320.5" cy="364.2" r="2.35" fill="#d2d2d2" stroke="#1f1f1f" stroke-width="1.1"/>
<circle cx="328.6" cy="344" r="2.35" fill="#4a9f4a" stroke="#0a300b" stroke-width="1.1"/>
<circle cx="330.6" cy="343.5" r="2.35" fill="#4a9f4a" stroke="#0a300b" stroke-width="1.1"/>
<circle cx="333" cy="343.5" r="2.35" fill="#4a9f4a" stroke="#0a300b" stroke-width="1.1"/>
<circle cx="341" cy="346.8" r="2.35" fill="#eca53a" stroke="#382004" stroke-width="1.1"/>
<circle cx="344.2" cy="344.2" r="2.35" fill="#eca53a" stroke="#382004" stroke-width="1.1"/>
<circle cx="342.6" cy="345.6" r="2.35" fill="#eca53a" stroke="#382004" stroke-width="1.1"/>
<circle cx="353.5" cy="319.8" r="2.35" fill="#48aadb" stroke="#08283c" stroke-width="1.1"/>
<circle cx="356" cy="321.8" r="2.35" fill="#48aadb" stroke="#08283c" stroke-width="1.1"/>
<circle cx="354.5" cy="326.5" r="2.35" fill="#48aadb" stroke="#08283c" stroke-width="1.1"/>
<rect x="363.15" y="365" width="7.3" height="2.6" fill="#dcdce2"/>
<rect x="375.15" y="338.37" width="7.3" height="29.23" fill="#a9d294"/>
<rect x="387.15" y="355.87" width="7.3" height="11.73" fill="#fbc683"/>
<rect x="399.15" y="349.6" width="7.3" height="18" fill="#a8cdf1"/>
<line x1="378.8" y1="333.13" x2="378.8" y2="343.6" stroke="#0a300b" stroke-width="1"/>
<line x1="376.7" y1="333.13" x2="380.9" y2="333.13" stroke="#0a300b" stroke-width="1"/>
<line x1="376.7" y1="343.6" x2="380.9" y2="343.6" stroke="#0a300b" stroke-width="1"/>
<line x1="390.8" y1="351.47" x2="390.8" y2="360.26" stroke="#382004" stroke-width="1"/>
<line x1="388.7" y1="351.47" x2="392.9" y2="351.47" stroke="#382004" stroke-width="1"/>
<line x1="388.7" y1="360.26" x2="392.9" y2="360.26" stroke="#382004" stroke-width="1"/>
<line x1="402.8" y1="345.3" x2="402.8" y2="353.9" stroke="#08283c" stroke-width="1"/>
<line x1="400.7" y1="345.3" x2="404.9" y2="345.3" stroke="#08283c" stroke-width="1"/>
<line x1="400.7" y1="353.9" x2="404.9" y2="353.9" stroke="#08283c" stroke-width="1"/>
<path d="M366.3 362.3L369 365L366.3 367.7L363.6 365Z" fill="#f4f4f4" stroke="#1f1f1f" stroke-width="1.2"/>
<path d="M368.2 362.3L370.9 365L368.2 367.7L365.5 365Z" fill="#f4f4f4" stroke="#1f1f1f" stroke-width="1.2"/>
<path d="M378.8 325.2L381.5 327.9L378.8 330.6L376.1 327.9Z" fill="#4a9f4a" stroke="#0a300b" stroke-width="1.2"/>
<path d="M377.3 340.9L380 343.6L377.3 346.3L374.6 343.6Z" fill="#4a9f4a" stroke="#0a300b" stroke-width="1.2"/>
<path d="M380.2 340.9L382.9 343.6L380.2 346.3L377.5 343.6Z" fill="#4a9f4a" stroke="#0a300b" stroke-width="1.2"/>
<path d="M390.8 344.5L393.5 347.2L390.8 349.9L388.1 347.2Z" fill="#eca53a" stroke="#382004" stroke-width="1.2"/>
<path d="M391.7 356.2L394.4 358.9L391.7 361.6L389 358.9Z" fill="#eca53a" stroke="#382004" stroke-width="1.2"/>
<path d="M389.3 358.8L392 361.5L389.3 364.2L386.6 361.5Z" fill="#eca53a" stroke="#382004" stroke-width="1.2"/>
<path d="M402.8 338.5L405.5 341.2L402.8 343.9L400.1 341.2Z" fill="#48aadb" stroke="#08283c" stroke-width="1.2"/>
<path d="M404.2 349.5L406.9 352.2L404.2 354.9L401.5 352.2Z" fill="#48aadb" stroke="#08283c" stroke-width="1.2"/>
<path d="M401.3 352.7L404 355.4L401.3 358.1L398.6 355.4Z" fill="#48aadb" stroke="#08283c" stroke-width="1.2"/>
<rect x="411.15" y="301" width="7.3" height="66.6" fill="#dcdce2"/>
<rect x="423.15" y="297.1" width="7.3" height="70.5" fill="#a9d294"/>
<rect x="435.05" y="297.47" width="7.3" height="70.13" fill="#fbc683"/>
<rect x="447.05" y="285.03" width="7.3" height="82.57" fill="#a8cdf1"/>
<line x1="414.8" y1="280.31" x2="414.8" y2="296.22" stroke="#1f1f1f" stroke-width="1"/>
<line x1="412.7" y1="280.31" x2="416.9" y2="280.31" stroke="#1f1f1f" stroke-width="1"/>
<line x1="412.7" y1="296.22" x2="416.9" y2="296.22" stroke="#1f1f1f" stroke-width="1"/>
<line x1="426.8" y1="288.45" x2="426.8" y2="305.75" stroke="#0a300b" stroke-width="1"/>
<line x1="424.7" y1="288.45" x2="428.9" y2="288.45" stroke="#0a300b" stroke-width="1"/>
<line x1="424.7" y1="305.75" x2="428.9" y2="305.75" stroke="#0a300b" stroke-width="1"/>
<line x1="438.7" y1="285.67" x2="438.7" y2="309.26" stroke="#382004" stroke-width="1"/>
<line x1="436.6" y1="285.67" x2="440.8" y2="285.67" stroke="#382004" stroke-width="1"/>
<line x1="436.6" y1="309.26" x2="440.8" y2="309.26" stroke="#382004" stroke-width="1"/>
<line x1="450.7" y1="283.87" x2="450.7" y2="286.19" stroke="#08283c" stroke-width="1"/>
<line x1="448.6" y1="283.87" x2="452.8" y2="283.87" stroke="#08283c" stroke-width="1"/>
<line x1="448.6" y1="286.19" x2="452.8" y2="286.19" stroke="#08283c" stroke-width="1"/>
<path d="M412.45 272.14L416.95 272.14L414.7 275.86Z" fill="none" stroke="#1f1f1f" stroke-width="1.1"/>
<path d="M412.45 287.44L416.95 287.44L414.7 291.16Z" fill="none" stroke="#1f1f1f" stroke-width="1.1"/>
<path d="M412.45 299.64L416.95 299.64L414.7 303.36Z" fill="none" stroke="#1f1f1f" stroke-width="1.1"/>
<path d="M424.55 282.74L429.05 282.74L426.8 286.46Z" fill="#4a9f4a" stroke="#0a300b" stroke-width="1.1"/>
<path d="M424.55 291.14L429.05 291.14L426.8 294.86Z" fill="#4a9f4a" stroke="#0a300b" stroke-width="1.1"/>
<path d="M424.55 311.84L429.05 311.84L426.8 315.56Z" fill="#4a9f4a" stroke="#0a300b" stroke-width="1.1"/>
<path d="M436.45 280.04L440.95 280.04L438.7 283.76Z" fill="#eca53a" stroke="#382004" stroke-width="1.1"/>
<path d="M436.45 288.04L440.95 288.04L438.7 291.76Z" fill="#eca53a" stroke="#382004" stroke-width="1.1"/>
<path d="M436.45 318.74L440.95 318.74L438.7 322.46Z" fill="#eca53a" stroke="#382004" stroke-width="1.1"/>
<path d="M447.75 280.94L452.25 280.94L450 284.66Z" fill="#48aadb" stroke="#08283c" stroke-width="1.1"/>
<path d="M446.15 284.84L450.65 284.84L448.4 288.56Z" fill="#48aadb" stroke="#08283c" stroke-width="1.1"/>
<path d="M449.85 283.74L454.35 283.74L452.1 287.46Z" fill="#48aadb" stroke="#08283c" stroke-width="1.1"/>
<line x1="316.9" y1="374.7" x2="355.8" y2="374.7" stroke="#1e1e1e" stroke-width="1.2"/>
<line x1="365" y1="374.7" x2="404" y2="374.7" stroke="#1e1e1e" stroke-width="1.2"/>
<line x1="412.6" y1="374.7" x2="451.8" y2="374.7" stroke="#1e1e1e" stroke-width="1.2"/>
<text x="312" y="386.5" font-size="8.8" text-anchor="end" textLength="49.6" lengthAdjust="spacingAndGlyphs">AH1 peptide</text>
<text x="312" y="399.6" font-size="8.8" text-anchor="end" textLength="40" lengthAdjust="spacingAndGlyphs">anti-MHCI</text>
<text x="312" y="413" font-size="8.8" text-anchor="end" textLength="49.6" lengthAdjust="spacingAndGlyphs">aCD3/CD28</text>
<line x1="334.2" y1="383.9" x2="338.8" y2="383.9" stroke="#1e1e1e" stroke-width="0.9"/>
<line x1="336.5" y1="381.6" x2="336.5" y2="386.2" stroke="#1e1e1e" stroke-width="0.9"/>
<line x1="334.2" y1="397" x2="338.8" y2="397" stroke="#1e1e1e" stroke-width="0.9"/>
<line x1="334.2" y1="410.6" x2="338.8" y2="410.6" stroke="#1e1e1e" stroke-width="0.9"/>
<line x1="382.3" y1="383.9" x2="386.9" y2="383.9" stroke="#1e1e1e" stroke-width="0.9"/>
<line x1="384.6" y1="381.6" x2="384.6" y2="386.2" stroke="#1e1e1e" stroke-width="0.9"/>
<line x1="382.3" y1="397" x2="386.9" y2="397" stroke="#1e1e1e" stroke-width="0.9"/>
<line x1="384.6" y1="394.7" x2="384.6" y2="399.3" stroke="#1e1e1e" stroke-width="0.9"/>
<line x1="382.3" y1="410.6" x2="386.9" y2="410.6" stroke="#1e1e1e" stroke-width="0.9"/>
<line x1="429.9" y1="383.9" x2="434.5" y2="383.9" stroke="#1e1e1e" stroke-width="0.9"/>
<line x1="429.9" y1="397" x2="434.5" y2="397" stroke="#1e1e1e" stroke-width="0.9"/>
<line x1="429.9" y1="410.6" x2="434.5" y2="410.6" stroke="#1e1e1e" stroke-width="0.9"/>
<line x1="432.2" y1="408.3" x2="432.2" y2="412.9" stroke="#1e1e1e" stroke-width="0.9"/>
<circle cx="331.7" cy="316.2" r="1.05" fill="#1e1e1e"/>
<circle cx="331.7" cy="320.8" r="1.05" fill="#1e1e1e"/>
<circle cx="331.7" cy="325.4" r="1.05" fill="#1e1e1e"/>
<polyline points="336.2,331.6 336.2,310.3 355.2,310.3 355.2,312.4" fill="none" stroke="#1e1e1e" stroke-width="1.1"/>
<polyline points="342.7,307 342.7,304 389.4,304 389.4,307" fill="none" stroke="#1e1e1e" stroke-width="1.1"/>
<text x="347.2" y="300.8" font-size="9.1" textLength="37.4" lengthAdjust="spacingAndGlyphs"><tspan font-style="italic">P</tspan> = .0742</text>
<polyline points="356.2,290.9 356.2,288.9 401,288.9 401,291" fill="none" stroke="#1e1e1e" stroke-width="1.1"/>
<circle cx="376.85" cy="284.6" r="1.15" fill="#1e1e1e"/>
<circle cx="380.35" cy="284.6" r="1.15" fill="#1e1e1e"/>
<circle cx="465.9" cy="309.8" r="2.2" fill="#d2d2d2" stroke="#1f1f1f" stroke-width="1.1"/>
<text x="472.2" y="312.6" font-size="8.4">CTR</text>
<circle cx="465.9" cy="324.5" r="2.2" fill="#4a9f4a" stroke="#0a300b" stroke-width="1.1"/>
<text x="472.2" y="327.3" font-size="8.4">CART</text>
<circle cx="465.9" cy="339.2" r="2.2" fill="#eca53a" stroke="#382004" stroke-width="1.1"/>
<text x="472.2" y="342" font-size="8.4">RT</text>
<circle cx="465.9" cy="353.9" r="2.2" fill="#48aadb" stroke="#08283c" stroke-width="1.1"/>
<text x="472.2" y="356.7" font-size="8.4" textLength="39.7" lengthAdjust="spacingAndGlyphs">RT+CART</text>
<text x="69.7" y="460.6" font-size="10" textLength="97.7" lengthAdjust="spacingAndGlyphs">2:1 T Cells:A20 cells</text>
<line x1="56.3" y1="470.8" x2="56.3" y2="572.52" stroke="#1e1e1e" stroke-width="1.25"/>
<line x1="53.7" y1="473.9" x2="56.3" y2="473.9" stroke="#1e1e1e" stroke-width="1.25"/>
<text x="49.4" y="476.96" font-size="8.6" text-anchor="end" textLength="15" lengthAdjust="spacingAndGlyphs">150</text>
<line x1="53.7" y1="506.57" x2="56.3" y2="506.57" stroke="#1e1e1e" stroke-width="1.25"/>
<text x="49.4" y="509.62" font-size="8.6" text-anchor="end" textLength="15" lengthAdjust="spacingAndGlyphs">100</text>
<line x1="53.7" y1="539.24" x2="56.3" y2="539.24" stroke="#1e1e1e" stroke-width="1.25"/>
<text x="49.4" y="542.29" font-size="8.6" text-anchor="end" textLength="10" lengthAdjust="spacingAndGlyphs">50</text>
<line x1="53.7" y1="571.9" x2="56.3" y2="571.9" stroke="#1e1e1e" stroke-width="1.25"/>
<text x="49.4" y="574.95" font-size="8.6" text-anchor="end">0</text>
<g transform="translate(27.6 520.6) rotate(-90) scale(0.86 1)"><text x="0" y="0" font-size="9.1" text-anchor="middle" style="stroke-width:0.35px">Number of IFN-&#947; spots</text></g>
<line x1="53.7" y1="571.9" x2="180" y2="571.9" stroke="#1e1e1e" stroke-width="1.25"/>
<line x1="65.3" y1="571.9" x2="65.3" y2="574.9" stroke="#1e1e1e" stroke-width="1.25"/>
<line x1="78.6" y1="571.9" x2="78.6" y2="574.9" stroke="#1e1e1e" stroke-width="1.25"/>
<line x1="91.7" y1="571.9" x2="91.7" y2="574.9" stroke="#1e1e1e" stroke-width="1.25"/>
<line x1="104.8" y1="571.9" x2="104.8" y2="574.9" stroke="#1e1e1e" stroke-width="1.25"/>
<line x1="117.8" y1="571.9" x2="117.8" y2="574.9" stroke="#1e1e1e" stroke-width="1.25"/>
<line x1="130.9" y1="571.9" x2="130.9" y2="574.9" stroke="#1e1e1e" stroke-width="1.25"/>
<line x1="143.6" y1="571.9" x2="143.6" y2="574.9" stroke="#1e1e1e" stroke-width="1.25"/>
<line x1="157.1" y1="571.9" x2="157.1" y2="574.9" stroke="#1e1e1e" stroke-width="1.25"/>
<line x1="170.3" y1="571.9" x2="170.3" y2="574.9" stroke="#1e1e1e" stroke-width="1.25"/>
<rect x="61.4" y="571.2" width="7.8" height="0.7" fill="#dcdce2"/>
<rect x="74.7" y="557.67" width="7.8" height="14.23" fill="#a9d294"/>
<rect x="87.8" y="547.75" width="7.8" height="24.15" fill="#fbc683"/>
<rect x="100.9" y="528.83" width="7.8" height="43.07" fill="#a8cdf1"/>
<rect x="113.9" y="570.9" width="7.8" height="1" fill="#dcdce2"/>
<rect x="127" y="566.6" width="7.8" height="5.3" fill="#a9d294"/>
<rect x="139.7" y="569.87" width="7.8" height="2.03" fill="#fbc683"/>
<rect x="153.2" y="565.33" width="7.8" height="6.57" fill="#a8cdf1"/>
<rect x="166.4" y="518.98" width="7.8" height="52.92" fill="#dcdce2"/>
<line x1="78.6" y1="553.26" x2="78.6" y2="562.07" stroke="#0a300b" stroke-width="1"/>
<line x1="76.5" y1="553.26" x2="80.7" y2="553.26" stroke="#0a300b" stroke-width="1"/>
<line x1="76.5" y1="562.07" x2="80.7" y2="562.07" stroke="#0a300b" stroke-width="1"/>
<line x1="91.7" y1="543.89" x2="91.7" y2="551.61" stroke="#382004" stroke-width="1"/>
<line x1="89.6" y1="543.89" x2="93.8" y2="543.89" stroke="#382004" stroke-width="1"/>
<line x1="89.6" y1="551.61" x2="93.8" y2="551.61" stroke="#382004" stroke-width="1"/>
<line x1="104.8" y1="518.85" x2="104.8" y2="538.8" stroke="#08283c" stroke-width="1"/>
<line x1="102.7" y1="518.85" x2="106.9" y2="518.85" stroke="#08283c" stroke-width="1"/>
<line x1="102.7" y1="538.8" x2="106.9" y2="538.8" stroke="#08283c" stroke-width="1"/>
<line x1="170.3" y1="507.15" x2="170.3" y2="530.8" stroke="#262626" stroke-width="1"/>
<line x1="168.1" y1="507.15" x2="172.5" y2="507.15" stroke="#262626" stroke-width="1"/>
<line x1="168.1" y1="530.8" x2="172.5" y2="530.8" stroke="#262626" stroke-width="1"/>
<circle cx="63.7" cy="571.2" r="2.35" fill="#d2d2d2" stroke="#1f1f1f" stroke-width="1.1"/>
<circle cx="67.5" cy="571.2" r="2.35" fill="#d2d2d2" stroke="#1f1f1f" stroke-width="1.1"/>
<circle cx="76.3" cy="552.3" r="2.35" fill="#4a9f4a" stroke="#0a300b" stroke-width="1.1"/>
<circle cx="80.8" cy="554.3" r="2.35" fill="#4a9f4a" stroke="#0a300b" stroke-width="1.1"/>
<circle cx="78.6" cy="566.4" r="2.35" fill="#4a9f4a" stroke="#0a300b" stroke-width="1.1"/>
<circle cx="91.5" cy="537" r="2.35" fill="#eca53a" stroke="#382004" stroke-width="1.1"/>
<circle cx="89.2" cy="548.4" r="2.35" fill="#eca53a" stroke="#382004" stroke-width="1.1"/>
<circle cx="93.6" cy="550.4" r="2.35" fill="#eca53a" stroke="#382004" stroke-width="1.1"/>
<circle cx="91.7" cy="555.2" r="2.35" fill="#eca53a" stroke="#382004" stroke-width="1.1"/>
<circle cx="105" cy="503.5" r="2.35" fill="#48aadb" stroke="#08283c" stroke-width="1.1"/>
<circle cx="105" cy="523.7" r="2.35" fill="#48aadb" stroke="#08283c" stroke-width="1.1"/>
<circle cx="105" cy="538.5" r="2.35" fill="#48aadb" stroke="#08283c" stroke-width="1.1"/>
<circle cx="105" cy="549.6" r="2.35" fill="#48aadb" stroke="#08283c" stroke-width="1.1"/>
<path d="M114.55 569.04L119.05 569.04L116.8 572.76Z" fill="#ffffff" stroke="#1f1f1f" stroke-width="1.1"/>
<path d="M117.15 569.04L121.65 569.04L119.4 572.76Z" fill="#ffffff" stroke="#1f1f1f" stroke-width="1.1"/>
<path d="M127.95 563.64L132.45 563.64L130.2 567.36Z" fill="#4a9f4a" stroke="#0a300b" stroke-width="1.1"/>
<path d="M126.55 565.64L131.05 565.64L128.8 569.36Z" fill="#4a9f4a" stroke="#0a300b" stroke-width="1.1"/>
<path d="M129.95 564.94L134.45 564.94L132.2 568.66Z" fill="#4a9f4a" stroke="#0a300b" stroke-width="1.1"/>
<path d="M140.15 568.34L144.65 568.34L142.4 572.06Z" fill="#eca53a" stroke="#382004" stroke-width="1.1"/>
<path d="M142.35 568.54L146.85 568.54L144.6 572.26Z" fill="#eca53a" stroke="#382004" stroke-width="1.1"/>
<path d="M141.15 567.14L145.65 567.14L143.4 570.86Z" fill="#eca53a" stroke="#382004" stroke-width="1.1"/>
<path d="M154.85 557.54L159.35 557.54L157.1 561.26Z" fill="#48aadb" stroke="#08283c" stroke-width="1.1"/>
<path d="M154.85 563.64L159.35 563.64L157.1 567.36Z" fill="#48aadb" stroke="#08283c" stroke-width="1.1"/>
<path d="M152.85 566.34L157.35 566.34L155.1 570.06Z" fill="#48aadb" stroke="#08283c" stroke-width="1.1"/>
<path d="M156.85 566.34L161.35 566.34L159.1 570.06Z" fill="#48aadb" stroke="#08283c" stroke-width="1.1"/>
<path d="M167.95 481.94L172.45 481.94L170.2 485.66Z" fill="none" stroke="#1f1f1f" stroke-width="1.1"/>
<path d="M167.95 524.64L172.45 524.64L170.2 528.36Z" fill="none" stroke="#1f1f1f" stroke-width="1.1"/>
<path d="M166.05 531.44L170.55 531.44L168.3 535.16Z" fill="none" stroke="#1f1f1f" stroke-width="1.1"/>
<path d="M169.85 530.44L174.35 530.44L172.1 534.16Z" fill="none" stroke="#1f1f1f" stroke-width="1.1"/>
<line x1="61.9" y1="579.2" x2="108.3" y2="579.2" stroke="#1e1e1e" stroke-width="1.25"/>
<line x1="115.1" y1="579.2" x2="160.5" y2="579.2" stroke="#1e1e1e" stroke-width="1.25"/>
<line x1="165.9" y1="579.2" x2="176" y2="579.2" stroke="#1e1e1e" stroke-width="1.25"/>
<text x="58.1" y="590.7" font-size="8.8" text-anchor="end" textLength="40.2" lengthAdjust="spacingAndGlyphs">anti-MHCI</text>
<text x="58.1" y="604" font-size="8.8" text-anchor="end" textLength="50.4" lengthAdjust="spacingAndGlyphs">aCD3/CD28</text>
<line x1="82.7" y1="588.1" x2="87.3" y2="588.1" stroke="#1e1e1e" stroke-width="0.9"/>
<line x1="82.7" y1="601.4" x2="87.3" y2="601.4" stroke="#1e1e1e" stroke-width="0.9"/>
<line x1="135.2" y1="588.1" x2="139.8" y2="588.1" stroke="#1e1e1e" stroke-width="0.9"/>
<line x1="137.5" y1="585.8" x2="137.5" y2="590.4" stroke="#1e1e1e" stroke-width="0.9"/>
<line x1="135.2" y1="601.4" x2="139.8" y2="601.4" stroke="#1e1e1e" stroke-width="0.9"/>
<line x1="168.2" y1="588.1" x2="172.8" y2="588.1" stroke="#1e1e1e" stroke-width="0.9"/>
<line x1="168.2" y1="601.4" x2="172.8" y2="601.4" stroke="#1e1e1e" stroke-width="0.9"/>
<line x1="170.5" y1="599.1" x2="170.5" y2="603.7" stroke="#1e1e1e" stroke-width="0.9"/>
<circle cx="189.2" cy="513.3" r="2.2" fill="#d2d2d2" stroke="#1f1f1f" stroke-width="1.1"/>
<text x="195.9" y="516.2" font-size="8.4">CTR</text>
<circle cx="189.2" cy="528.2" r="2.2" fill="#4a9f4a" stroke="#0a300b" stroke-width="1.1"/>
<text x="195.9" y="531.1" font-size="8.4">CART</text>
<circle cx="189.2" cy="543.1" r="2.2" fill="#eca53a" stroke="#382004" stroke-width="1.1"/>
<text x="195.9" y="546" font-size="8.4">RT</text>
<circle cx="189.2" cy="558" r="2.2" fill="#48aadb" stroke="#08283c" stroke-width="1.1"/>
<text x="195.9" y="560.9" font-size="8.4" textLength="39.6" lengthAdjust="spacingAndGlyphs">RT+CART</text>
<polyline points="66.2,481.9 66.2,480.3 105,480.3 105,481.9" fill="none" stroke="#1e1e1e" stroke-width="1.3"/>
<circle cx="83.85" cy="474.9" r="1.15" fill="#1e1e1e"/>
<circle cx="87.35" cy="474.9" r="1.15" fill="#1e1e1e"/>
<polyline points="78.3,491.6 78.3,490 105.1,490 105.1,491.6" fill="none" stroke="#1e1e1e" stroke-width="1.3"/>
<circle cx="91.7" cy="484.5" r="1.15" fill="#1e1e1e"/>
<polyline points="104.6,486.1 104.6,484.5 155.8,484.5 155.8,486.1" fill="none" stroke="#1e1e1e" stroke-width="1.3"/>
<circle cx="130.2" cy="478.9" r="1.15" fill="#1e1e1e"/>
<polyline points="91.3,499.7 91.3,498.1 142.7,498.1 142.7,499.7" fill="none" stroke="#1e1e1e" stroke-width="1.3"/>
<circle cx="115.25" cy="492.9" r="1.15" fill="#1e1e1e"/>
<circle cx="118.75" cy="492.9" r="1.15" fill="#1e1e1e"/>
<polyline points="66.1,533.8 66.1,532.2 78.7,532.2 78.7,533.8" fill="none" stroke="#1e1e1e" stroke-width="1.3"/>
<circle cx="70.65" cy="527" r="1.15" fill="#1e1e1e"/>
<circle cx="74.15" cy="527" r="1.15" fill="#1e1e1e"/>
<text x="318" y="460.6" font-size="10" textLength="103.8" lengthAdjust="spacingAndGlyphs">2:1 T Cells:CT26 cells</text>
<line x1="307.6" y1="470.8" x2="307.6" y2="572.42" stroke="#1e1e1e" stroke-width="1.25"/>
<line x1="305" y1="473.8" x2="307.6" y2="473.8" stroke="#1e1e1e" stroke-width="1.25"/>
<text x="300.7" y="476.86" font-size="8.6" text-anchor="end" textLength="15" lengthAdjust="spacingAndGlyphs">150</text>
<line x1="305" y1="506.47" x2="307.6" y2="506.47" stroke="#1e1e1e" stroke-width="1.25"/>
<text x="300.7" y="509.52" font-size="8.6" text-anchor="end" textLength="15" lengthAdjust="spacingAndGlyphs">100</text>
<line x1="305" y1="539.13" x2="307.6" y2="539.13" stroke="#1e1e1e" stroke-width="1.25"/>
<text x="300.7" y="542.19" font-size="8.6" text-anchor="end" textLength="10" lengthAdjust="spacingAndGlyphs">50</text>
<line x1="305" y1="571.8" x2="307.6" y2="571.8" stroke="#1e1e1e" stroke-width="1.25"/>
<text x="300.7" y="574.85" font-size="8.6" text-anchor="end">0</text>
<g transform="translate(278.6 520.6) rotate(-90) scale(0.86 1)"><text x="0" y="0" font-size="9.1" text-anchor="middle" style="stroke-width:0.35px">Number of IFN-&#947; spots</text></g>
<line x1="305" y1="571.8" x2="431" y2="571.8" stroke="#1e1e1e" stroke-width="1.25"/>
<line x1="316.2" y1="571.8" x2="316.2" y2="574.8" stroke="#1e1e1e" stroke-width="1.25"/>
<line x1="329.5" y1="571.8" x2="329.5" y2="574.8" stroke="#1e1e1e" stroke-width="1.25"/>
<line x1="342.5" y1="571.8" x2="342.5" y2="574.8" stroke="#1e1e1e" stroke-width="1.25"/>
<line x1="355.9" y1="571.8" x2="355.9" y2="574.8" stroke="#1e1e1e" stroke-width="1.25"/>
<line x1="369.2" y1="571.8" x2="369.2" y2="574.8" stroke="#1e1e1e" stroke-width="1.25"/>
<line x1="382.3" y1="571.8" x2="382.3" y2="574.8" stroke="#1e1e1e" stroke-width="1.25"/>
<line x1="395.7" y1="571.8" x2="395.7" y2="574.8" stroke="#1e1e1e" stroke-width="1.25"/>
<line x1="408.9" y1="571.8" x2="408.9" y2="574.8" stroke="#1e1e1e" stroke-width="1.25"/>
<line x1="422.3" y1="571.8" x2="422.3" y2="574.8" stroke="#1e1e1e" stroke-width="1.25"/>
<rect x="312.3" y="558.1" width="7.8" height="13.7" fill="#dcdce2"/>
<rect x="325.6" y="551.7" width="7.8" height="20.1" fill="#a9d294"/>
<rect x="338.6" y="548.33" width="7.8" height="23.47" fill="#fbc683"/>
<rect x="352" y="516" width="7.8" height="55.8" fill="#a8cdf1"/>
<rect x="365.3" y="567.67" width="7.8" height="4.13" fill="#dcdce2"/>
<rect x="378.4" y="565.58" width="7.8" height="6.22" fill="#a9d294"/>
<rect x="391.8" y="565.75" width="7.8" height="6.05" fill="#fbc683"/>
<rect x="405" y="566.37" width="7.8" height="5.43" fill="#a8cdf1"/>
<rect x="418.4" y="519.08" width="7.8" height="52.72" fill="#dcdce2"/>
<line x1="329.5" y1="546.9" x2="329.5" y2="556.5" stroke="#0a300b" stroke-width="1"/>
<line x1="327.4" y1="546.9" x2="331.6" y2="546.9" stroke="#0a300b" stroke-width="1"/>
<line x1="327.4" y1="556.5" x2="331.6" y2="556.5" stroke="#0a300b" stroke-width="1"/>
<line x1="342.5" y1="540.97" x2="342.5" y2="555.68" stroke="#382004" stroke-width="1"/>
<line x1="340.4" y1="540.97" x2="344.6" y2="540.97" stroke="#382004" stroke-width="1"/>
<line x1="340.4" y1="555.68" x2="344.6" y2="555.68" stroke="#382004" stroke-width="1"/>
<line x1="355.9" y1="513.23" x2="355.9" y2="518.77" stroke="#08283c" stroke-width="1"/>
<line x1="353.8" y1="513.23" x2="358" y2="513.23" stroke="#08283c" stroke-width="1"/>
<line x1="353.8" y1="518.77" x2="358" y2="518.77" stroke="#08283c" stroke-width="1"/>
<line x1="422.3" y1="507.22" x2="422.3" y2="530.93" stroke="#262626" stroke-width="1"/>
<line x1="420.1" y1="507.22" x2="424.5" y2="507.22" stroke="#262626" stroke-width="1"/>
<line x1="420.1" y1="530.93" x2="424.5" y2="530.93" stroke="#262626" stroke-width="1"/>
<circle cx="315.6" cy="555.4" r="2.35" fill="#d2d2d2" stroke="#1f1f1f" stroke-width="1.1"/>
<circle cx="314.2" cy="560.6" r="2.35" fill="#d2d2d2" stroke="#1f1f1f" stroke-width="1.1"/>
<circle cx="317.5" cy="558.3" r="2.35" fill="#d2d2d2" stroke="#1f1f1f" stroke-width="1.1"/>
<circle cx="327.7" cy="545.8" r="2.35" fill="#4a9f4a" stroke="#0a300b" stroke-width="1.1"/>
<circle cx="331.9" cy="548.1" r="2.35" fill="#4a9f4a" stroke="#0a300b" stroke-width="1.1"/>
<circle cx="329.6" cy="561.2" r="2.35" fill="#4a9f4a" stroke="#0a300b" stroke-width="1.1"/>
<circle cx="342.5" cy="530" r="2.35" fill="#eca53a" stroke="#382004" stroke-width="1.1"/>
<circle cx="342.5" cy="542.9" r="2.35" fill="#eca53a" stroke="#382004" stroke-width="1.1"/>
<circle cx="340.6" cy="561.2" r="2.35" fill="#eca53a" stroke="#382004" stroke-width="1.1"/>
<circle cx="345" cy="559.2" r="2.35" fill="#eca53a" stroke="#382004" stroke-width="1.1"/>
<circle cx="356.5" cy="508.8" r="2.35" fill="#48aadb" stroke="#08283c" stroke-width="1.1"/>
<circle cx="354" cy="516" r="2.35" fill="#48aadb" stroke="#08283c" stroke-width="1.1"/>
<circle cx="358.5" cy="516.9" r="2.35" fill="#48aadb" stroke="#08283c" stroke-width="1.1"/>
<circle cx="354" cy="522.3" r="2.35" fill="#48aadb" stroke="#08283c" stroke-width="1.1"/>
<path d="M366.9 563.1L369.6 565.8L366.9 568.5L364.2 565.8Z" fill="#f4f4f4" stroke="#1f1f1f" stroke-width="1.2"/>
<path d="M370 565L372.7 567.7L370 570.4L367.3 567.7Z" fill="#f4f4f4" stroke="#1f1f1f" stroke-width="1.2"/>
<path d="M366.9 566.8L369.6 569.5L366.9 572.2L364.2 569.5Z" fill="#f4f4f4" stroke="#1f1f1f" stroke-width="1.2"/>
<path d="M381.5 558.8L384.2 561.5L381.5 564.2L378.8 561.5Z" fill="#4a9f4a" stroke="#0a300b" stroke-width="1.2"/>
<path d="M383 561.6L385.7 564.3L383 567L380.3 564.3Z" fill="#4a9f4a" stroke="#0a300b" stroke-width="1.2"/>
<path d="M380.8 564.3L383.5 567L380.8 569.7L378.1 567Z" fill="#4a9f4a" stroke="#0a300b" stroke-width="1.2"/>
<path d="M383 566.8L385.7 569.5L383 572.2L380.3 569.5Z" fill="#4a9f4a" stroke="#0a300b" stroke-width="1.2"/>
<path d="M393 558.8L395.7 561.5L393 564.2L390.3 561.5Z" fill="#eca53a" stroke="#382004" stroke-width="1.2"/>
<path d="M396 561.9L398.7 564.6L396 567.3L393.3 564.6Z" fill="#eca53a" stroke="#382004" stroke-width="1.2"/>
<path d="M393.8 564.7L396.5 567.4L393.8 570.1L391.1 567.4Z" fill="#eca53a" stroke="#382004" stroke-width="1.2"/>
<path d="M395.5 566.8L398.2 569.5L395.5 572.2L392.8 569.5Z" fill="#eca53a" stroke="#382004" stroke-width="1.2"/>
<path d="M407.4 561.9L410.1 564.6L407.4 567.3L404.7 564.6Z" fill="#48aadb" stroke="#08283c" stroke-width="1.2"/>
<path d="M410 563.8L412.7 566.5L410 569.2L407.3 566.5Z" fill="#48aadb" stroke="#08283c" stroke-width="1.2"/>
<path d="M406.2 565.3L408.9 568L406.2 570.7L403.5 568Z" fill="#48aadb" stroke="#08283c" stroke-width="1.2"/>
<path d="M419.85 481.94L424.35 481.94L422.1 485.66Z" fill="none" stroke="#1f1f1f" stroke-width="1.1"/>
<path d="M419.85 524.64L424.35 524.64L422.1 528.36Z" fill="none" stroke="#1f1f1f" stroke-width="1.1"/>
<path d="M417.95 531.44L422.45 531.44L420.2 535.16Z" fill="none" stroke="#1f1f1f" stroke-width="1.1"/>
<path d="M422.15 530.84L426.65 530.84L424.4 534.56Z" fill="none" stroke="#1f1f1f" stroke-width="1.1"/>
<line x1="315.6" y1="579.2" x2="354.6" y2="579.2" stroke="#1e1e1e" stroke-width="1.25"/>
<line x1="369.5" y1="579.2" x2="408" y2="579.2" stroke="#1e1e1e" stroke-width="1.25"/>
<line x1="417.2" y1="579.2" x2="427.7" y2="579.2" stroke="#1e1e1e" stroke-width="1.25"/>
<text x="311.9" y="590.7" font-size="8.8" text-anchor="end" textLength="40.2" lengthAdjust="spacingAndGlyphs">anti-MHCI</text>
<text x="311.9" y="604" font-size="8.8" text-anchor="end" textLength="50.4" lengthAdjust="spacingAndGlyphs">aCD3/CD28</text>
<line x1="332.7" y1="588.1" x2="337.3" y2="588.1" stroke="#1e1e1e" stroke-width="0.9"/>
<line x1="332.7" y1="601.4" x2="337.3" y2="601.4" stroke="#1e1e1e" stroke-width="0.9"/>
<line x1="386.7" y1="588.1" x2="391.3" y2="588.1" stroke="#1e1e1e" stroke-width="0.9"/>
<line x1="389" y1="585.8" x2="389" y2="590.4" stroke="#1e1e1e" stroke-width="0.9"/>
<line x1="386.7" y1="601.4" x2="391.3" y2="601.4" stroke="#1e1e1e" stroke-width="0.9"/>
<line x1="420.3" y1="588.1" x2="424.9" y2="588.1" stroke="#1e1e1e" stroke-width="0.9"/>
<line x1="420.3" y1="601.4" x2="424.9" y2="601.4" stroke="#1e1e1e" stroke-width="0.9"/>
<line x1="422.6" y1="599.1" x2="422.6" y2="603.7" stroke="#1e1e1e" stroke-width="0.9"/>
<circle cx="442.3" cy="513.3" r="2.2" fill="#d2d2d2" stroke="#1f1f1f" stroke-width="1.1"/>
<text x="449" y="516.2" font-size="8.4">CTR</text>
<circle cx="442.3" cy="528.2" r="2.2" fill="#4a9f4a" stroke="#0a300b" stroke-width="1.1"/>
<text x="449" y="531.1" font-size="8.4">CART</text>
<circle cx="442.3" cy="543.1" r="2.2" fill="#eca53a" stroke="#382004" stroke-width="1.1"/>
<text x="449" y="546" font-size="8.4">RT</text>
<circle cx="442.3" cy="558" r="2.2" fill="#48aadb" stroke="#08283c" stroke-width="1.1"/>
<text x="449" y="560.9" font-size="8.4" textLength="39.6" lengthAdjust="spacingAndGlyphs">RT+CART</text>
<polyline points="332.4,499.8 332.4,497.1 356.9,497.1 356.9,500.5" fill="none" stroke="#1e1e1e" stroke-width="1.3"/>
<circle cx="341.15" cy="491.7" r="1.15" fill="#1e1e1e"/>
<circle cx="344.65" cy="491.7" r="1.15" fill="#1e1e1e"/>
<circle cx="348.15" cy="491.7" r="1.15" fill="#1e1e1e"/>
<polyline points="342.8,517.3 342.8,500.9 354.9,500.9 354.9,503.2" fill="none" stroke="#1e1e1e" stroke-width="1.3"/>
<circle cx="346.8" cy="506.5" r="1.05" fill="#1e1e1e"/>
<circle cx="346.8" cy="511.6" r="1.05" fill="#1e1e1e"/>
<polyline points="357.6,502.9 357.6,501.4 404.8,501.4 404.8,503.7" fill="none" stroke="#1e1e1e" stroke-width="1.3"/>
<circle cx="375.95" cy="496.4" r="1.15" fill="#1e1e1e"/>
<circle cx="379.45" cy="496.4" r="1.15" fill="#1e1e1e"/>
<circle cx="382.95" cy="496.4" r="1.15" fill="#1e1e1e"/>
<circle cx="386.45" cy="496.4" r="1.15" fill="#1e1e1e"/>
</svg>
</body></html>
